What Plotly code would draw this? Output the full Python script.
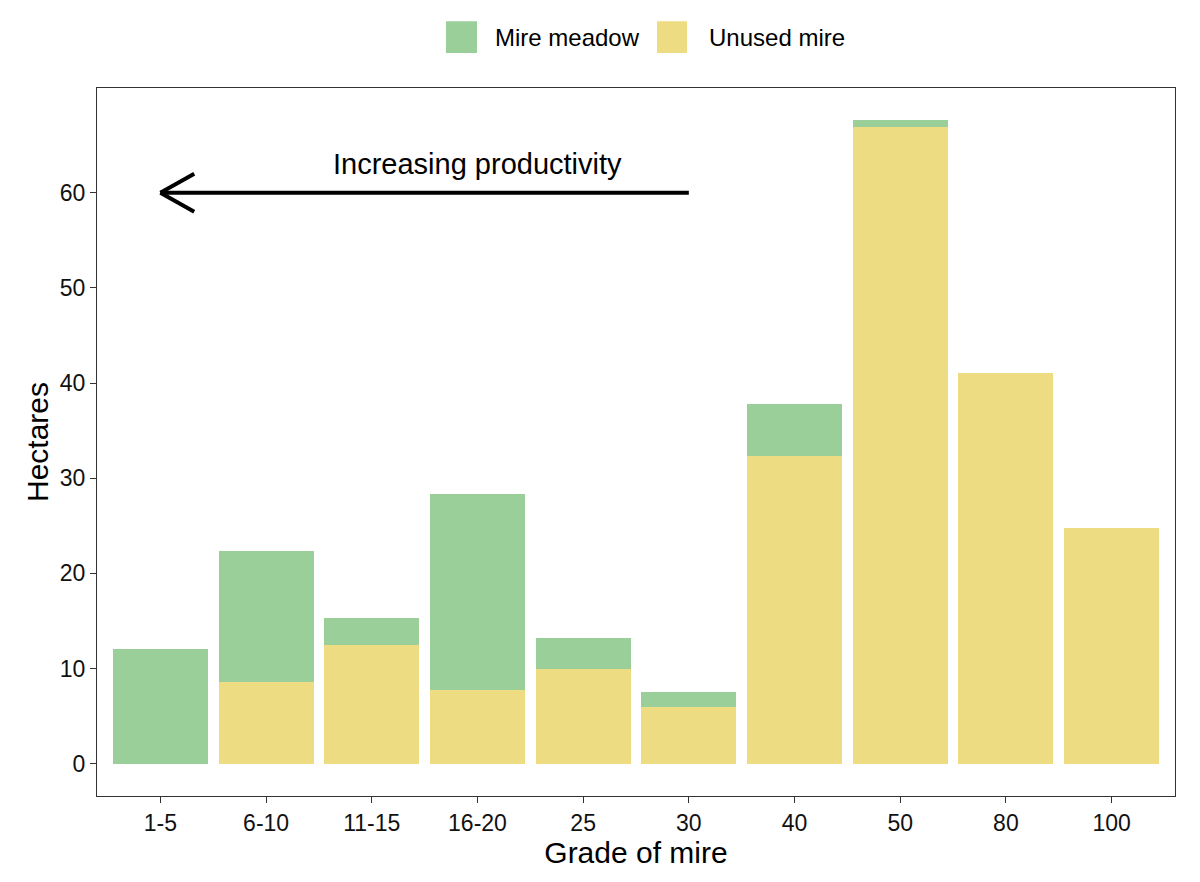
import plotly.graph_objects as go

grades = ["1-5", "6-10", "11-15", "16-20", "25", "30", "40", "50", "80", "100"]
unused_mire = [0, 8.6, 12.5, 7.7, 9.9, 6.0, 32.3, 66.9, 41.0, 24.8]
mire_meadow = [12.0, 13.7, 2.8, 20.6, 3.3, 1.5, 5.5, 0.7, 0, 0]
series_names = ["Mire meadow", "Unused mire"]

GREEN = "#9BCF9A"
YELLOW = "#EEDC82"
FONT = "Liberation Sans, Arial, sans-serif"

fig = go.Figure()
fig.add_trace(go.Bar(x=grades, y=unused_mire, name=series_names[1],
                     marker=dict(color=YELLOW, line=dict(width=0)), showlegend=False))
fig.add_trace(go.Bar(x=grades, y=mire_meadow, name=series_names[0],
                     marker=dict(color=GREEN, line=dict(width=0)), showlegend=False))

# arrow "Increasing productivity"
ay = 60
lw = 4
fig.add_shape(type="line", xref="x", yref="y", x0=5, y0=ay, x1=0, y1=ay,
              line=dict(color="black", width=lw))
fig.add_shape(type="line", xref="x", yref="y", x0=0, y0=ay, x1=0.32, y1=ay + 2.0,
              line=dict(color="black", width=lw))
fig.add_shape(type="line", xref="x", yref="y", x0=0, y0=ay, x1=0.32, y1=ay - 2.0,
              line=dict(color="black", width=lw))
fig.add_annotation(x=3, y=63.0, xref="x", yref="y", text="Increasing productivity",
                   showarrow=False, font=dict(family=FONT, size=29, color="black"))

# manual legend (large square keys, as in the reference)
legend_items = [
    (series_names[0], GREEN, 0.3237, 0.3525, 0.3673),
    (series_names[1], YELLOW, 0.5195, 0.5473, 0.5659),
]
for name, col, kx0, kx1, tx in legend_items:
    fig.add_shape(type="rect", xref="paper", yref="paper", x0=kx0, x1=kx1,
                  y0=1.0493, y1=1.0944, fillcolor=col, line=dict(width=0))
    fig.add_annotation(x=tx, y=1.0718, xref="paper", yref="paper", text=name,
                       xanchor="left", yanchor="middle", showarrow=False,
                       font=dict(family=FONT, size=24, color="black"))

fig.update_layout(
    barmode="stack",
    bargap=0.1,
    width=1184, height=866,
    margin=dict(l=89, r=17, t=80, b=74),
    paper_bgcolor="white", plot_bgcolor="white",
    font=dict(family=FONT, color="black", size=22),
    showlegend=False,
)
fig.update_xaxes(
    type="category", range=[-0.6, 9.6],
    showline=True, linecolor="#333333", linewidth=1.2, mirror=True,
    ticks="outside", ticklen=6, tickcolor="#333333",
    tickfont=dict(family=FONT, size=23, color="#111111"),
    title=dict(text="Grade of mire", font=dict(family=FONT, size=30, color="black"), standoff=5),
    showgrid=False,
)
fig.update_yaxes(
    range=[-3.4, 71],
    tickvals=[0, 10, 20, 30, 40, 50, 60],
    showline=True, linecolor="#333333", linewidth=1.2, mirror=True,
    ticks="outside", ticklen=6, tickcolor="#333333",
    tickfont=dict(family=FONT, size=23, color="#111111"),
    title=dict(text="Hectares", font=dict(family=FONT, size=30, color="black"), standoff=2),
    showgrid=False, zeroline=False,
)

fig.write_html("out.html")
